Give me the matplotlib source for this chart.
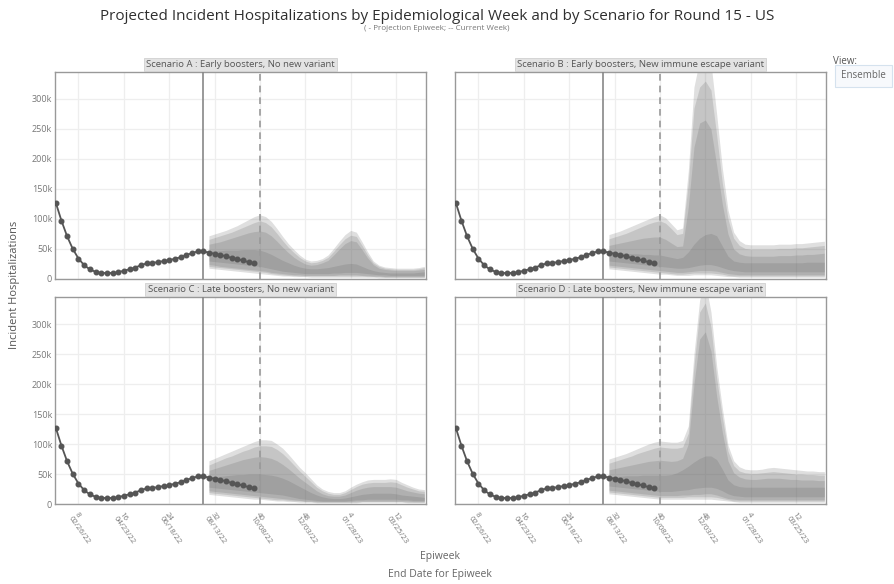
import pandas as pd
import matplotlib
matplotlib.use('Agg')
import matplotlib.pyplot as plt

plt.rcParams['font.family'] = ['Open Sans', 'DejaVu Sans']

# observed weekly hospitalizations (thousands), week ending 2022-01-29 .. 2022-10-01
obs_start = '2022-01-29'
obs_values = [127, 97, 71, 50, 34, 23, 16, 12, 10, 10, 10, 11, 14, 16, 19, 23, 26, 27,
              28, 30, 31, 34, 36, 40, 43, 46, 46, 44, 42, 40, 38, 35, 33, 31, 28, 26]

# projection weeks 2022-08-06 .. 2023-04-29 (thousands)
proj_start = '2022-08-06'
projection_epiweek = '2022-07-30'
current_week = '2022-10-08'

titles = ['Scenario A : Early boosters, No new variant',
          'Scenario B : Early boosters, New immune escape variant',
          'Scenario C : Late boosters, No new variant',
          'Scenario D : Late boosters, New immune escape variant']

# scenario A
a_hi95 = [72, 75, 78, 81, 85, 89, 94, 99, 104, 107, 104, 96, 84, 71, 59, 49, 40, 33, 30, 31, 34, 40, 51, 63, 74, 81, 78, 62, 45, 30, 23, 20, 19, 18, 18, 18, 18, 19, 21]
a_hi90 = [66, 69, 72, 75, 78, 82, 86, 90, 94, 97, 94, 87, 76, 64, 53, 44, 36, 30, 27, 28, 31, 36, 46, 57, 67, 73, 71, 56, 40, 27, 21, 18, 17, 16, 16, 16, 16, 17, 19]
a_hi80 = [58, 60, 62, 65, 68, 71, 74, 77, 79, 80, 78, 72, 63, 53, 44, 36, 30, 25, 23, 24, 27, 31, 40, 50, 59, 64, 62, 49, 35, 24, 18, 16, 15, 14, 14, 14, 14, 15, 16]
a_hi50 = [47, 47, 47, 48, 48, 48, 49, 49, 49, 48, 45, 41, 36, 31, 27, 23, 20, 18, 17, 17, 18, 19, 21, 23, 25, 26, 25, 21, 17, 14, 12, 11, 10, 10, 10, 10, 10, 11, 12]
a_lo50 = [30, 29, 28, 27, 26, 25, 24, 23, 22, 21, 19, 17, 15, 13, 12, 11, 10, 9, 9, 9, 9, 9, 10, 10, 11, 11, 11, 10, 9, 8, 7, 7, 6, 6, 6, 6, 6, 6, 6]
a_lo80 = [24, 23, 21, 20, 19, 18, 17, 16, 15, 14, 13, 11, 10, 9, 8, 7, 7, 6, 6, 6, 6, 6, 6, 7, 7, 7, 7, 6, 6, 5, 5, 4, 4, 4, 4, 4, 4, 4, 4]
a_lo90 = [21, 20, 19, 18, 17, 16, 15, 14, 13, 12, 11, 9, 8, 7, 6, 6, 5, 5, 5, 5, 5, 5, 5, 5, 5, 5, 5, 5, 4, 4, 4, 3, 3, 3, 3, 3, 3, 3, 3]
a_lo95 = [18, 17, 16, 15, 14, 13, 12, 11, 10, 9, 8, 7, 6, 5, 5, 4, 4, 4, 3, 3, 3, 3, 3, 3, 3, 3, 3, 3, 3, 3, 2, 2, 2, 2, 2, 2, 2, 2, 2]

# scenario B
b_hi95 = [74, 77, 80, 84, 88, 92, 96, 100, 104, 107, 102, 92, 82, 85, 180, 320, 365, 380, 360, 275, 185, 115, 78, 64, 58, 57, 57, 57, 57, 57, 58, 58, 58, 59, 59, 60, 61, 62, 63]
b_hi90 = [67, 70, 73, 76, 80, 84, 88, 92, 95, 97, 93, 84, 74, 76, 160, 285, 320, 330, 315, 240, 160, 100, 68, 56, 51, 50, 50, 50, 50, 50, 51, 51, 51, 52, 52, 53, 54, 55, 56]
b_hi80 = [56, 58, 60, 62, 64, 66, 68, 69, 70, 70, 66, 60, 54, 55, 120, 220, 260, 265, 250, 190, 125, 75, 50, 42, 39, 38, 38, 38, 38, 38, 39, 39, 39, 40, 40, 41, 41, 42, 43]
b_hi50 = [46, 45, 44, 43, 42, 42, 41, 41, 40, 40, 38, 36, 34, 36, 45, 58, 68, 74, 76, 72, 55, 38, 30, 28, 27, 27, 27, 27, 27, 27, 27, 27, 27, 27, 27, 28, 28, 28, 28]
b_lo50 = [30, 29, 28, 27, 26, 25, 24, 23, 22, 21, 20, 19, 18, 18, 19, 21, 23, 24, 24, 22, 19, 16, 14, 13, 12, 12, 12, 12, 12, 12, 12, 12, 12, 12, 12, 12, 12, 12, 12]
b_lo80 = [23, 22, 21, 20, 19, 18, 17, 16, 15, 14, 13, 12, 11, 11, 12, 13, 14, 14, 14, 13, 11, 9, 8, 7, 7, 7, 7, 7, 7, 7, 7, 7, 7, 7, 7, 7, 7, 7, 7]
b_lo90 = [20, 19, 18, 17, 16, 15, 14, 13, 12, 11, 10, 9, 8, 8, 9, 10, 10, 10, 10, 9, 8, 6, 5, 5, 5, 5, 5, 5, 5, 5, 5, 5, 5, 5, 5, 5, 5, 5, 5]
b_lo95 = [17, 16, 15, 14, 13, 12, 11, 10, 9, 8, 8, 7, 6, 6, 6, 7, 7, 7, 7, 6, 5, 4, 4, 3, 3, 3, 3, 3, 3, 3, 3, 3, 3, 3, 3, 3, 3, 3, 3]

# scenario C
c_hi95 = [72, 76, 80, 84, 88, 92, 96, 100, 104, 107, 107, 106, 100, 93, 83, 72, 61, 52, 42, 32, 25, 21, 19, 19, 22, 28, 33, 37, 40, 41, 41, 41, 42, 41, 36, 32, 28, 25, 24]
c_hi90 = [65, 69, 73, 77, 80, 84, 88, 91, 95, 97, 97, 96, 91, 84, 75, 65, 55, 46, 37, 28, 22, 18, 16, 16, 19, 24, 29, 33, 35, 36, 36, 36, 37, 36, 32, 28, 25, 22, 21]
c_hi80 = [56, 59, 62, 65, 68, 71, 74, 76, 78, 79, 78, 76, 72, 66, 59, 51, 43, 36, 29, 22, 17, 14, 13, 13, 15, 19, 23, 26, 28, 29, 29, 29, 29, 28, 25, 22, 20, 18, 17]
c_hi50 = [44, 45, 46, 47, 48, 49, 49, 50, 50, 50, 49, 48, 46, 43, 39, 34, 29, 24, 19, 15, 12, 10, 9, 9, 10, 12, 14, 16, 17, 18, 18, 18, 18, 17, 15, 14, 13, 12, 11]
c_lo50 = [28, 27, 26, 25, 24, 23, 22, 21, 20, 19, 18, 17, 16, 15, 13, 11, 9, 8, 7, 6, 5, 5, 5, 5, 5, 6, 7, 7, 8, 8, 8, 8, 8, 8, 7, 7, 6, 6, 6]
c_lo80 = [22, 21, 20, 19, 18, 17, 16, 15, 14, 13, 12, 11, 10, 9, 8, 7, 6, 5, 5, 4, 4, 4, 4, 4, 4, 4, 5, 5, 5, 5, 5, 5, 5, 5, 5, 5, 4, 4, 4]
c_lo90 = [19, 18, 17, 16, 15, 14, 13, 12, 11, 10, 9, 8, 7, 7, 6, 5, 5, 4, 4, 3, 3, 3, 3, 3, 3, 3, 3, 4, 4, 4, 4, 4, 4, 4, 4, 3, 3, 3, 3]
c_lo95 = [16, 15, 14, 13, 12, 11, 10, 9, 8, 8, 7, 6, 5, 5, 4, 4, 3, 3, 3, 2, 2, 2, 2, 2, 2, 2, 2, 3, 3, 3, 3, 3, 3, 3, 3, 2, 2, 2, 2]

# scenario D
d_hi95 = [75, 78, 81, 84, 88, 92, 96, 100, 103, 105, 104, 103, 103, 106, 130, 250, 340, 370, 320, 230, 160, 98, 72, 62, 58, 57, 57, 58, 60, 61, 60, 59, 58, 57, 56, 55, 55, 54, 54]
d_hi90 = [68, 71, 74, 77, 80, 84, 87, 90, 93, 95, 94, 93, 93, 95, 118, 230, 320, 335, 295, 210, 145, 88, 64, 55, 52, 51, 51, 52, 53, 54, 53, 52, 51, 50, 50, 49, 49, 48, 48]
d_hi80 = [57, 59, 61, 63, 65, 67, 69, 71, 72, 73, 72, 71, 72, 76, 100, 200, 275, 287, 255, 180, 120, 72, 52, 45, 42, 41, 41, 42, 43, 43, 43, 42, 41, 41, 40, 40, 40, 39, 39]
d_hi50 = [46, 46, 46, 47, 47, 47, 48, 48, 48, 48, 48, 49, 52, 57, 63, 70, 76, 80, 80, 74, 58, 40, 32, 29, 28, 28, 28, 28, 28, 28, 28, 28, 28, 28, 28, 28, 28, 28, 28]
d_lo50 = [30, 29, 28, 27, 26, 25, 24, 23, 22, 21, 21, 21, 22, 23, 24, 26, 27, 28, 28, 26, 22, 17, 14, 13, 12, 12, 12, 12, 12, 12, 12, 12, 12, 12, 12, 12, 12, 12, 12]
d_lo80 = [23, 22, 21, 20, 19, 18, 17, 16, 15, 14, 14, 14, 14, 15, 15, 16, 16, 17, 17, 15, 12, 9, 8, 7, 7, 7, 7, 7, 7, 7, 7, 7, 7, 7, 7, 7, 7, 7, 7]
d_lo90 = [20, 19, 18, 17, 16, 15, 14, 13, 12, 11, 11, 11, 11, 11, 12, 12, 12, 12, 12, 11, 9, 7, 5, 5, 5, 5, 5, 5, 5, 5, 5, 5, 5, 5, 5, 5, 5, 5, 5]
d_lo95 = [17, 16, 15, 14, 13, 12, 11, 10, 9, 8, 8, 8, 8, 8, 8, 8, 8, 8, 8, 7, 6, 5, 4, 3, 3, 3, 3, 3, 3, 3, 3, 3, 3, 3, 3, 3, 3, 3, 3]

tick_dates = ['2022-02-26', '2022-04-23', '2022-06-18', '2022-08-13',
              '2022-10-08', '2022-12-03', '2023-01-28', '2023-03-25']
tick_labels = ['8\n02/26/22', '16\n04/23/22', '24\n06/18/22', '32\n08/13/22',
               '40\n10/08/22', '48\n12/03/22', '4\n01/28/23', '12\n03/25/23']
y_ticks = [0, 50, 100, 150, 200, 250, 300]
y_labels = ['0', '50k', '100k', '150k', '200k', '250k', '300k']

scenarios = [
    [(a_lo95, a_hi95), (a_lo90, a_hi90), (a_lo80, a_hi80), (a_lo50, a_hi50)],
    [(b_lo95, b_hi95), (b_lo90, b_hi90), (b_lo80, b_hi80), (b_lo50, b_hi50)],
    [(c_lo95, c_hi95), (c_lo90, c_hi90), (c_lo80, c_hi80), (c_lo50, c_hi50)],
    [(d_lo95, d_hi95), (d_lo90, d_hi90), (d_lo80, d_hi80), (d_lo50, d_hi50)],
]

obs_dates = pd.date_range(obs_start, periods=len(obs_values), freq='W-SAT')
proj_dates = pd.date_range(proj_start, periods=len(a_hi95), freq='W-SAT')

fig = plt.figure(figsize=(8.94, 5.84), dpi=100)
W, H = 894, 584
boxes = [(55, 72), (455, 72), (55, 297), (455, 297)]

for k, (x0, y0) in enumerate(boxes):
    ax = fig.add_axes([x0 / W, 1 - (y0 + 207) / H, 371 / W, 207 / H])
    for lo, hi in scenarios[k]:
        ax.fill_between(proj_dates, lo, hi, color='#606060', alpha=0.2,
                        linewidth=0, zorder=2)
    ax.plot(obs_dates, obs_values, color='#555555', lw=1.3, marker='o',
            markersize=3.3, zorder=4)
    ax.axvline(pd.Timestamp(projection_epiweek), color='#888888', lw=1.2, zorder=3)
    ax.axvline(pd.Timestamp(current_week), color='#999999', lw=1.2,
               dashes=(4, 3), zorder=3)

    ax.set_xlim(pd.Timestamp('2022-01-28'), pd.Timestamp('2023-05-01'))
    ax.set_ylim(0, 345)
    ax.set_xticks(pd.to_datetime(tick_dates))
    ax.set_yticks(y_ticks)
    ax.grid(True, color='#eeeeee', lw=0.9, zorder=0)
    ax.set_axisbelow(True)
    ax.tick_params(length=0, colors='#777777', labelsize=6.5, pad=2)
    if k % 2 == 0:
        ax.set_yticklabels(y_labels)
    else:
        ax.set_yticklabels([])
    if k >= 2:
        ax.set_xticklabels(tick_labels, rotation=-55, ha='left', va='top',
                           rotation_mode='anchor', linespacing=1.0, fontsize=5.6)
        ax.tick_params(axis='x', pad=5)
    else:
        ax.set_xticklabels([])
    for s in ax.spines.values():
        s.set_color('#999999')
        s.set_linewidth(1.0)

    ax.text(0.5, 1.035, titles[k], transform=ax.transAxes, ha='center', va='center',
            fontsize=6.8, color='#555555', zorder=6,
            bbox=dict(boxstyle='square,pad=0.22', fc='#e3e3e3', ec='#d0d0d0', lw=0.6))

fig.text(437 / W, 1 - 16 / H,
         'Projected Incident Hospitalizations by Epidemiological Week and by Scenario for Round 15 - US',
         ha='center', va='center', fontsize=11, color='#2f2f2f')
fig.text(437 / W, 1 - 28.5 / H, '( - Projection Epiweek; -- Current Week)',
         ha='center', va='center', fontsize=5.8, color='#777777')
fig.text(15 / W, 1 - 285 / H, 'Incident Hospitalizations', rotation=90,
         ha='center', va='center', fontsize=8, color='#555555')
fig.text(440 / W, 1 - 557 / H, 'Epiweek', ha='center', va='center',
         fontsize=7.5, color='#666666')
fig.text(440 / W, 1 - 574 / H, 'End Date for Epiweek', ha='center', va='center',
         fontsize=7.5, color='#666666')

fig.text(833 / W, 1 - 62 / H, 'View:', ha='left', va='center', fontsize=7, color='#555555')
fig.text(841 / W, 1 - 76 / H, 'Ensemble', ha='left', va='center', fontsize=7,
         color='#666666',
         bbox=dict(boxstyle='square,pad=0.6', fc='#f7f9fc', ec='#d5e2ee', lw=0.8))

fig.savefig('out.png', dpi=100)
